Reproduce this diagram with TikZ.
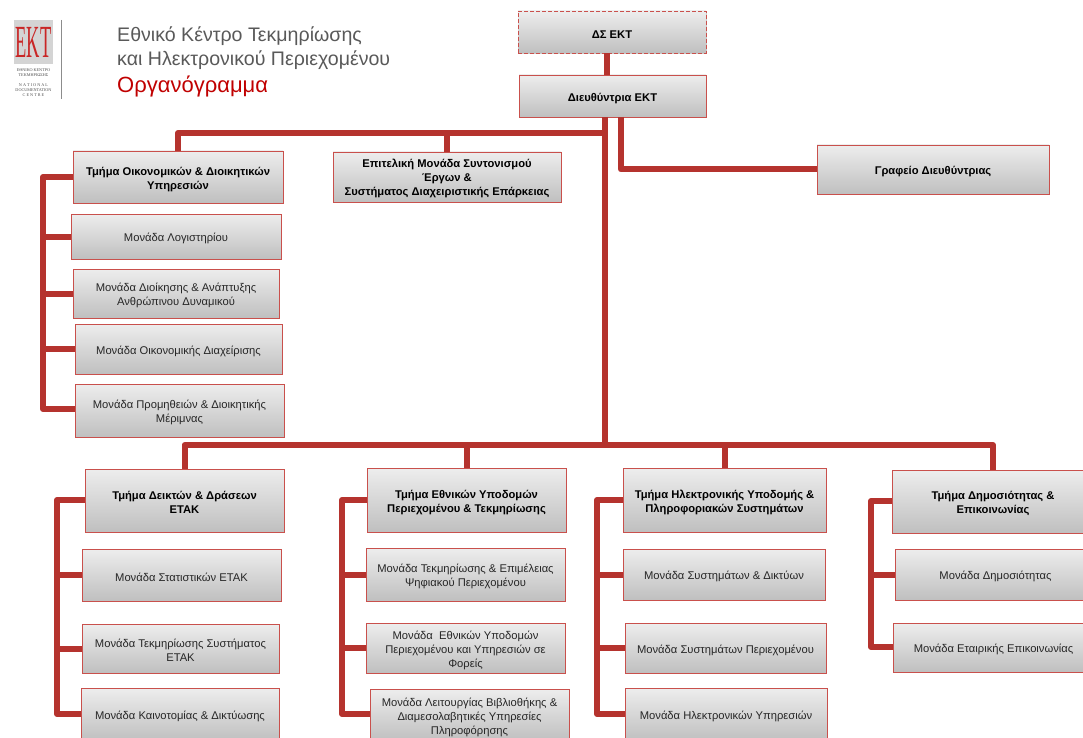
\documentclass[tikz,border=0pt]{standalone}
\usepackage{fontspec}
\setmainfont{Liberation Sans}
\newfontfamily\logoserif{Liberation Serif}
\usetikzlibrary{shadows,calc}
\definecolor{conn}{HTML}{B5332E}
\definecolor{edge}{HTML}{C9504C}
\definecolor{titlegray}{HTML}{595959}
\definecolor{titlered}{HTML}{C00000}
\definecolor{logogray}{HTML}{D4D4D4}
\tikzset{
  x=1pt,y=-1pt,
  box/.style={draw=edge,line width=0.9pt,top color=black!7,bottom color=black!25,
    drop shadow={shadow xshift=0.6pt,shadow yshift=-1.4pt,fill=black,opacity=.22},
    align=center,inner sep=0pt,outer sep=0pt,text=black!85,font=\fontsize{11.2}{14}\selectfont},
  head/.style={box,font=\bfseries\fontsize{11.2}{14}\selectfont,text=black},
  dashedbox/.style={head,dash pattern=on 4pt off 2pt},
  link/.style={draw=conn,line width=6pt,line join=round,line cap=butt},
  titletext/.style={anchor=west,inner sep=0pt,font=\fontsize{19.6}{22}\selectfont,text=titlegray},
  logosmall/.style={inner sep=0pt,font=\logoserif\fontsize{4.2}{5}\selectfont,text=black!70,align=center}
}
\newcommand{\bx}[7][box]{%
  \pgfmathsetmacro{\bw}{#5-#3}\pgfmathsetmacro{\bh}{#6-#4}%
  \pgfmathsetmacro{\bcx}{(#3+#5)/2}\pgfmathsetmacro{\bcy}{(#4+#6)/2}%
  \node[#1,minimum width=\bw pt,minimum height=\bh pt] (#2) at (\bcx,\bcy) {\rule{0pt}{12.5pt}#7};}
\begin{document}
\begin{tikzpicture}
\useasboundingbox (0,0) rectangle (1083,738);
% logo
\fill[logogray] (14,20) rectangle (53,64);
\node[inner sep=0pt,text=titlered!85,font=\logoserif\fontsize{46}{46}\selectfont,xscale=.4] (logo) at (33.5,42) {EKT};
\draw[black!45,line width=1pt] (61,20) -- (61,99);
\node[logosmall] (logotext) at (33.5,83) {ΕΘΝΙΚΟ ΚΕΝΤΡΟ\\ΤΕΚΜΗΡΙΩΣΗΣ\\[5pt]N A T I O N A L\\DOCUMENTATION\\C E N T R E};
% title
\node[titletext] (t1) at (117,36.5) {Εθνικό Κέντρο Τεκμηρίωσης};
\node[titletext] (t2) at (117,60.5) {και Ηλεκτρονικού Περιεχομένου};
\node[titletext,text=titlered,font=\fontsize{22}{24}\selectfont] (t3) at (117,86) {Οργανόγραμμα};
% boxes
\bx[dashedbox]{ds}{518}{11}{706}{53}{ΔΣ ΕΚΤ}
\bx[head]{dir}{519}{75}{706}{117}{Διευθύντρια ΕΚΤ}
\bx[head]{oik}{73}{151}{283}{203}{Τμήμα Οικονομικών \& Διοικητικών\\Υπηρεσιών}
\bx[head]{epi}{333}{152}{561}{202}{Επιτελική Μονάδα Συντονισμού\\Έργων \&\\Συστήματος Διαχειριστικής Επάρκειας\rule[-4pt]{0pt}{4pt}}
\bx[head]{graf}{817}{145}{1049}{194}{Γραφείο Διευθύντριας}
\bx{log}{71}{214}{281}{259}{Μονάδα Λογιστηρίου}
\bx{dioik}{73}{269}{279}{318}{Μονάδα Διοίκησης \& Ανάπτυξης\\Ανθρώπινου Δυναμικού}
\bx{oikd}{75}{324}{282}{374}{Μονάδα Οικονομικής Διαχείρισης}
\bx{prom}{75}{384}{284}{437}{Μονάδα Προμηθειών \& Διοικητικής\\Μέριμνας}
\bx[head]{deik}{85}{469}{284}{532}{Τμήμα Δεικτών \& Δράσεων\\ΕΤΑΚ}
\bx{stat}{82}{549}{281}{601}{Μονάδα Στατιστικών ΕΤΑΚ}
\bx{tsys}{82}{624}{279}{673}{Μονάδα Τεκμηρίωσης Συστήματος\\ΕΤΑΚ}
\bx{kain}{81}{688}{279}{741}{Μονάδα Καινοτομίας \& Δικτύωσης}
\bx[head]{ethn}{367}{468}{566}{532}{Τμήμα Εθνικών Υποδομών\\Περιεχομένου \& Τεκμηρίωσης}
\bx{tepi}{366}{548}{565}{601}{Μονάδα Τεκμηρίωσης \& Επιμέλειας\\Ψηφιακού Περιεχομένου}
\bx{eyp}{366}{623}{565}{673}{Μονάδα~ Εθνικών Υποδομών\\Περιεχομένου και Υπηρεσιών σε\\Φορείς}
\bx{leit}{370}{689}{569}{741}{Μονάδα Λειτουργίας Βιβλιοθήκης \&\\Διαμεσολαβητικές Υπηρεσίες\\Πληροφόρησης}
\bx[head]{ilek}{623}{468}{826}{532}{Τμήμα Ηλεκτρονικής Υποδομής \&\\Πληροφοριακών Συστημάτων}
\bx{sysd}{623}{549}{825}{600}{Μονάδα Συστημάτων \& Δικτύων}
\bx{sysp}{625}{623}{826}{673}{Μονάδα Συστημάτων Περιεχομένου}
\bx{ilyp}{625}{688}{827}{741}{Μονάδα Ηλεκτρονικών Υπηρεσιών}
\bx[head]{dim}{892}{470}{1094}{533}{Τμήμα Δημοσιότητας \&\\Επικοινωνίας}
\bx{mdim}{895}{549}{1096}{600}{Μονάδα Δημοσιότητας}
\bx{etai}{893}{623}{1094}{672}{Μονάδα Εταιρικής Επικοινωνίας}
% junctions
\coordinate (topbus) at (605,133);
\coordinate (midbus) at (605,445);
\coordinate (bus1) at (43,177);
\coordinate (bus1e) at (43,409);
\coordinate (bus2) at (57,500);
\coordinate (bus2e) at (57,714);
\coordinate (bus3) at (342,500);
\coordinate (bus3e) at (342,714);
\coordinate (bus4) at (597,500);
\coordinate (bus4e) at (597,714);
\coordinate (bus5) at (871,501);
\coordinate (bus5e) at (871,647);
% connectors
\draw[link] ($(ds.south)+(-5,0)$) -- ($(dir.north)+(-5.5,0)$);
\draw[link] (dir.south -| topbus) -- (midbus);
\draw[link] (oik.north) |- (topbus);
\draw[link] (epi.north) -- (epi.north |- topbus);
\draw[link] ($(dir.south)+(8.5,0)$) |- (graf.west);
\draw[link] (deik.north) |- (midbus);
\draw[link] (ethn.north) -- (ethn.north |- midbus);
\draw[link] (ilek.north) -- (ilek.north |- midbus);
\draw[link] (dim.north -| 993,0) |- (midbus);
\draw[link] (oik.west |- bus1) -- (bus1) -- (bus1e) -- (prom.west |- bus1e);
\draw[link] (log.west) -- (log.west -| bus1);
\draw[link] (dioik.west) -- (dioik.west -| bus1);
\draw[link] (oikd.west) -- (oikd.west -| bus1);
\draw[link] (deik.west |- bus2) -- (bus2) -- (bus2e) -- (kain.west |- bus2e);
\draw[link] (stat.west) -- (stat.west -| bus2);
\draw[link] (tsys.west) -- (tsys.west -| bus2);
\draw[link] (ethn.west |- bus3) -- (bus3) -- (bus3e) -- (leit.west |- bus3e);
\draw[link] (tepi.west) -- (tepi.west -| bus3);
\draw[link] (eyp.west) -- (eyp.west -| bus3);
\draw[link] (ilek.west |- bus4) -- (bus4) -- (bus4e) -- (ilyp.west |- bus4e);
\draw[link] (sysd.west) -- (sysd.west -| bus4);
\draw[link] (sysp.west) -- (sysp.west -| bus4);
\draw[link] (dim.west |- bus5) -- (bus5) -- (bus5e) -- (etai.west |- bus5e);
\draw[link] (mdim.west) -- (mdim.west -| bus5);
\end{tikzpicture}
\end{document}
